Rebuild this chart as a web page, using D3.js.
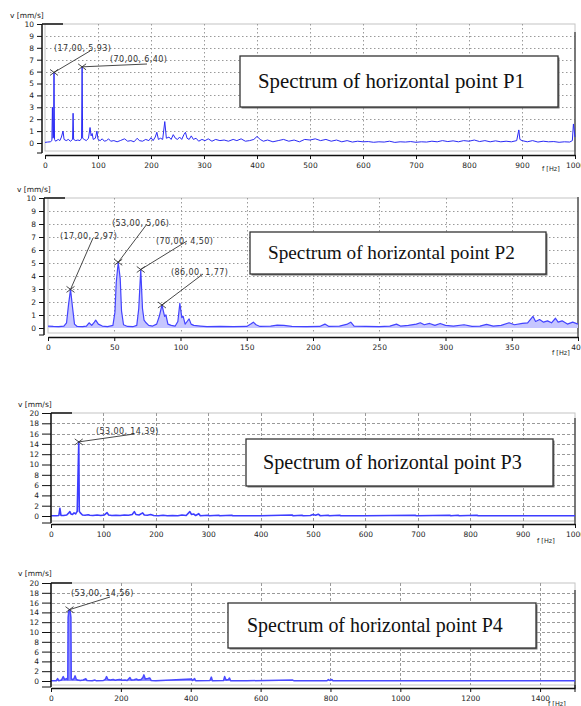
<!DOCTYPE html>
<html>
<head>
<meta charset="utf-8">
<script src="https://d3js.org/d3.v7.min.js"></script>
<style>
  body { margin: 0; background: #fff; }
  svg { display: block; }
</style>
</head>
<body>
<div id="chart"></div>
<script>

// spectrum P1 (0 - 1000 Hz)
var p1Freq = [0, 5, 10, 13, 14, 15, 16, 17, 18, 20, 25, 28, 31, 34, 36, 40, 44, 48, 52, 53, 54, 58, 62, 66, 69, 70, 71, 74, 78, 82, 85, 87, 89, 91, 95, 98, 100, 104, 108, 112, 116, 120, 124, 130, 136, 142, 150, 156, 162, 168, 174, 178, 184, 190, 196, 200, 204, 208, 211, 214, 218, 222, 226, 229, 234, 238, 242, 246, 250, 254, 258, 262, 265, 268, 272, 276, 280, 285, 290, 296, 302, 308, 315, 322, 330, 338, 346, 355, 362, 370, 378, 386, 394, 400, 406, 412, 420, 430, 440, 450, 460, 470, 480, 490, 500, 510, 520, 530, 540, 550, 560, 570, 580, 590, 600, 610, 620, 630, 640, 650, 660, 670, 680, 690, 700, 710, 720, 730, 740, 750, 760, 770, 780, 790, 800, 810, 820, 830, 840, 850, 860, 870, 880, 890, 894, 896, 900, 910, 920, 930, 940, 950, 960, 970, 980, 990, 995, 997, 1000];
var p1Vel = [0.05, 0.08, 0.1, 0.2, 3.0, 0.4, 0.5, 5.93, 0.3, 0.15, 0.3, 0.2, 0.5, 1.0, 0.3, 0.2, 0.3, 0.15, 0.3, 2.5, 0.3, 0.2, 0.25, 0.2, 0.4, 6.40, 0.4, 0.3, 0.2, 0.4, 1.3, 0.6, 0.8, 0.3, 0.4, 1.0, 0.3, 0.2, 0.35, 0.15, 0.2, 0.35, 0.15, 0.2, 0.1, 0.2, 0.35, 0.15, 0.2, 0.1, 0.4, 0.2, 0.15, 0.3, 0.2, 0.45, 0.2, 0.5, 0.9, 0.3, 0.4, 0.3, 1.8, 0.4, 0.5, 0.3, 0.7, 0.4, 0.3, 0.5, 0.3, 0.7, 0.9, 0.4, 0.3, 0.6, 0.3, 0.4, 0.15, 0.3, 0.2, 0.35, 0.15, 0.3, 0.2, 0.25, 0.15, 0.3, 0.2, 0.35, 0.15, 0.2, 0.3, 0.55, 0.3, 0.15, 0.25, 0.1, 0.2, 0.3, 0.15, 0.25, 0.1, 0.3, 0.25, 0.35, 0.2, 0.3, 0.15, 0.25, 0.1, 0.2, 0.08, 0.15, 0.1, 0.12, 0.06, 0.1, 0.08, 0.15, 0.05, 0.1, 0.08, 0.12, 0.06, 0.1, 0.08, 0.15, 0.1, 0.2, 0.12, 0.18, 0.1, 0.2, 0.15, 0.25, 0.12, 0.2, 0.1, 0.18, 0.1, 0.15, 0.1, 0.2, 1.1, 0.3, 0.2, 0.1, 0.2, 0.08, 0.15, 0.1, 0.12, 0.06, 0.1, 0.08, 0.2, 1.6, 0.5];
var p1Peaks = [[17, 5.93], [70, 6.40]];

// spectrum P2 (0 - 400 Hz)
var p2Freq = [0, 4, 8, 12, 14, 15.5, 17, 18.5, 20, 22, 26, 29, 31, 33, 35, 36, 38, 41, 45, 49, 50.5, 51.5, 53, 54.5, 55.5, 57, 60, 64, 67, 68.5, 70, 71.3, 72.5, 74, 76, 79, 82, 84, 86, 88, 89, 90.5, 93, 96, 98, 99.5, 101, 102, 103.5, 105, 106.5, 108, 110, 115, 120, 130, 140, 150, 153, 155, 157, 160, 168, 173, 178, 184, 195, 205, 209, 212, 220, 226, 228.5, 231, 240, 250, 258, 263, 266, 272, 278, 281, 284, 288, 292, 296, 300, 306, 314, 320, 326, 331, 336, 342, 348, 352, 358, 362, 366, 368, 371, 374, 377, 380, 383, 385, 388, 392, 396, 400];
var p2Vel = [0.15, 0.12, 0.1, 0.15, 0.4, 1.8, 2.97, 1.6, 0.3, 0.12, 0.1, 0.15, 0.4, 0.2, 0.45, 0.6, 0.3, 0.15, 0.1, 0.2, 1.2, 3.5, 5.06, 3.8, 1.3, 0.25, 0.12, 0.1, 0.2, 1.5, 4.50, 1.5, 0.6, 0.4, 0.2, 0.15, 0.3, 0.9, 1.77, 0.9, 1.0, 0.3, 0.2, 0.15, 0.5, 1.9, 0.8, 0.9, 0.3, 0.5, 0.7, 0.3, 0.2, 0.15, 0.1, 0.12, 0.1, 0.12, 0.3, 0.45, 0.25, 0.12, 0.15, 0.22, 0.2, 0.12, 0.1, 0.12, 0.3, 0.12, 0.15, 0.3, 0.45, 0.15, 0.12, 0.1, 0.15, 0.3, 0.15, 0.2, 0.3, 0.4, 0.25, 0.35, 0.2, 0.35, 0.2, 0.15, 0.25, 0.12, 0.15, 0.28, 0.15, 0.2, 0.4, 0.25, 0.35, 0.4, 0.9, 0.5, 0.65, 0.45, 0.55, 0.4, 0.75, 0.45, 0.55, 0.3, 0.45, 0.3];
var p2Peaks = [[17, 2.97], [53, 5.06], [70, 4.50], [86, 1.77]];

// spectrum P3 (0 - 1000 Hz)
var p3Freq = [0, 10, 15, 17, 19, 24, 30, 34, 36, 38, 41, 44, 47, 50, 52, 53, 54, 56, 60, 65, 71, 74, 80, 88, 95, 102, 107, 110, 116, 124, 132, 140, 148, 155, 159, 162, 168, 175, 178, 184, 190, 196, 205, 214, 222, 232, 242, 250, 258, 265, 268, 272, 276, 282, 285, 300, 302, 320, 322, 345, 347, 400, 460, 462, 479, 481, 495, 500, 505, 510, 514, 529, 531, 551, 553, 600, 695, 697, 761, 763, 777, 779, 813, 815, 1000];
var p3Vel = [0.05, 0.05, 0.1, 1.5, 0.1, 0.1, 0.2, 0.6, 0.85, 0.4, 0.3, 0.6, 0.4, 0.9, 9.8, 14.39, 0.9, 0.6, 0.2, 0.15, 0.25, 0.15, 0.1, 0.2, 0.1, 0.2, 0.65, 0.2, 0.1, 0.15, 0.1, 0.2, 0.15, 0.3, 0.85, 0.3, 0.2, 0.6, 0.2, 0.15, 0.3, 0.1, 0.05, 0.15, 0.05, 0.1, 0.05, 0.2, 0.1, 0.85, 0.3, 0.4, 0.1, 0.45, 0.05, 0.15, 0.05, 0.15, 0.05, 0.15, 0.05, 0.05, 0.2, 0.05, 0.15, 0.05, 0.1, 0.3, 0.15, 0.35, 0.05, 0.15, 0.05, 0.15, 0.05, 0.05, 0.15, 0.05, 0.15, 0.05, 0.15, 0.05, 0.15, 0.05, 0.05];
var p3Peaks = [[53, 14.39]];

// spectrum P4 (0 - 1500 Hz)
var p4Freq = [0, 15, 19, 22, 30, 35, 39, 44, 48, 49, 51, 53, 55, 57, 58, 62, 66, 69, 72, 76, 84, 92, 100, 103, 118, 126, 129, 150, 156, 159, 163, 170, 178, 184, 190, 197, 203, 212, 218, 226, 230, 238, 245, 250, 258, 263, 266, 270, 277, 283, 287, 300, 402, 405, 411, 414, 455, 459, 462, 494, 497, 501, 508, 511, 514, 560, 692, 695, 790, 794, 798, 804, 807, 1500];
var p4Vel = [0.05, 0.05, 0.5, 0.05, 0.2, 0.9, 0.3, 0.5, 0.3, 13.0, 14.3, 14.56, 14.2, 13.0, 0.4, 0.3, 0.5, 1.05, 0.4, 0.2, 0.1, 0.2, 0.45, 0.1, 0.05, 0.2, 0.05, 0.1, 0.4, 0.9, 0.3, 0.2, 0.3, 0.15, 0.25, 0.3, 0.15, 0.2, 0.1, 0.7, 0.2, 0.25, 0.4, 0.2, 0.3, 0.7, 1.25, 0.4, 0.5, 0.6, 0.1, 0.05, 0.4, 0.1, 0.5, 0.05, 0.1, 0.8, 0.05, 0.1, 0.9, 0.2, 0.3, 0.6, 0.05, 0.05, 0.2, 0.05, 0.05, 0.3, 0.1, 0.3, 0.05, 0.05];
var p4Peaks = [[53, 14.56]];

// tick values
var yTicks10 = [0, 1, 2, 3, 4, 5, 6, 7, 8, 9, 10];
var yTicks20 = [0, 2, 4, 6, 8, 10, 12, 14, 16, 18, 20];
var xTicks1000 = [0, 100, 200, 300, 400, 500, 600, 700, 800, 900, 1000];
var xTicks400 = [0, 50, 100, 150, 200, 250, 300, 350, 400];
var xTicks1500 = [0, 200, 400, 600, 800, 1000, 1200, 1400];

var titles = ["Spectrum of horizontal point P1", "Spectrum of horizontal point P2",
              "Spectrum of horizontal point P3", "Spectrum of horizontal point P4"];


var svg = d3.select("#chart").append("svg")
    .attr("width", 581)
    .attr("height", 706);

function peakLabel(p) {
    return "(" + p[0].toFixed(2).replace(".", ",") + ", " + p[1].toFixed(2).replace(".", ",") + ")";
}

function drawPanel(cfg) {
    var x = d3.scaleLinear().domain(cfg.xDomain).range(cfg.xRange);
    var y = d3.scaleLinear().domain(cfg.yDomain).range(cfg.yRange);
    var g = svg.append("g");
    var left = cfg.xRange[0], right = cfg.xRange[1];
    var top = y(cfg.yDomain[1]);

    // plot box (light gray)
    g.append("rect")
        .attr("x", left)
        .attr("y", top)
        .attr("width", right - left)
        .attr("height", cfg.boxBottom - top)
        .attr("fill", "none")
        .attr("stroke", "#c4c4c4")
        .attr("stroke-width", 1);

    // grid lines
    g.selectAll(".hgrid")
        .data(cfg.yGrid)
        .enter()
        .append("line")
        .attr("x1", left + 1).attr("x2", right)
        .attr("y1", function(d) { return Math.round(y(d)) + 0.5; })
        .attr("y2", function(d) { return Math.round(y(d)) + 0.5; })
        .attr("stroke", "#9a9a9a")
        .attr("stroke-dasharray", cfg.dash);
    g.selectAll(".vgrid")
        .data(cfg.xGrid)
        .enter()
        .append("line")
        .attr("x1", function(d) { return Math.round(x(d)) + 0.5; })
        .attr("x2", function(d) { return Math.round(x(d)) + 0.5; })
        .attr("y1", top).attr("y2", cfg.boxBottom)
        .attr("stroke", "#9a9a9a")
        .attr("stroke-dasharray", cfg.dash);

    // right border
    g.append("line")
        .attr("x1", right).attr("x2", right)
        .attr("y1", cfg.rightTop).attr("y2", cfg.axisY)
        .attr("stroke", "#555")
        .attr("stroke-width", 1.5);

    // spectrum
    var pts = d3.zip(cfg.freq, cfg.vel);
    if (cfg.fill) {
        var area = d3.area()
            .x(function(d) { return x(d[0]); })
            .y0(y(0))
            .y1(function(d) { return y(d[1]); });
        g.append("path")
            .attr("d", area(pts))
            .attr("fill", cfg.fill);
    }
    var line = d3.line()
        .x(function(d) { return x(d[0]); })
        .y(function(d) { return y(d[1]); });
    g.append("path")
        .attr("d", line(pts))
        .attr("fill", "none")
        .attr("stroke", cfg.color)
        .attr("stroke-width", cfg.lineWidth)
        .attr("stroke-linejoin", "round");

    // y axis
    var yAxis = d3.axisLeft(y)
        .tickValues(cfg.yTicks)
        .tickSize(cfg.tickLen)
        .tickPadding(3)
        .tickFormat(d3.format("d"));
    var ya = g.append("g")
        .attr("transform", "translate(" + cfg.axisX + ",0)")
        .call(yAxis);
    ya.select(".domain").remove();
    ya.selectAll("line").attr("stroke", "#111");
    ya.selectAll("text")
        .style("font-family", "DejaVu Sans")
        .style("font-size", "7.5px")
        .attr("fill", "#222");
    g.append("line")
        .attr("x1", cfg.axisX).attr("x2", cfg.axisX)
        .attr("y1", top).attr("y2", cfg.boxBottom + 2)
        .attr("stroke", "#111").attr("stroke-width", 1.5);
    g.append("line")
        .attr("x1", cfg.axisX - cfg.tickLen).attr("x2", cfg.axisX)
        .attr("y1", cfg.boxBottom + 2).attr("y2", cfg.boxBottom + 2)
        .attr("stroke", "#111");
    // top bracket
    g.append("line")
        .attr("x1", cfg.axisX).attr("x2", cfg.axisX + 21)
        .attr("y1", top).attr("y2", top)
        .attr("stroke", "#111").attr("stroke-width", 1.5);

    // x axis
    var xAxis = d3.axisBottom(x)
        .tickValues(cfg.xTicks)
        .tickSize(4)
        .tickSizeOuter(0)
        .tickPadding(4)
        .tickFormat(d3.format("d"));
    var xa = g.append("g")
        .attr("transform", "translate(0," + cfg.axisY + ")")
        .call(xAxis);
    xa.select(".domain").attr("stroke", "#111").attr("stroke-width", 1.5);
    xa.selectAll("line").attr("stroke", "#111");
    xa.selectAll("text")
        .style("font-family", "DejaVu Sans")
        .style("font-size", "7.5px")
        .attr("fill", "#222");
    if (cfg.endTick) {
        g.append("line")
            .attr("x1", right).attr("x2", right)
            .attr("y1", cfg.axisY - 3).attr("y2", cfg.axisY + 4)
            .attr("stroke", "#111");
    }

    // axis titles
    g.append("text")
        .attr("x", cfg.vLabel[0]).attr("y", cfg.vLabel[1])
        .style("font-family", "DejaVu Sans")
        .style("font-size", "7.5px")
        .attr("fill", "#222")
        .text("v [mm/s]");
    g.append("text")
        .attr("x", cfg.fLabel[0]).attr("y", cfg.fLabel[1])
        .style("font-family", "DejaVu Sans")
        .style("font-size", "6.5px")
        .attr("fill", "#222")
        .text("f [Hz]");

    // peak markers with leader lines
    cfg.peaks.forEach(function(p, i) {
        var px = x(p[0]), py = y(p[1]);
        var lab = cfg.labels[i];
        g.append("line")
            .attr("x1", px).attr("y1", py)
            .attr("x2", lab.end[0]).attr("y2", lab.end[1])
            .attr("stroke", "#333").attr("stroke-width", 0.9);
        g.append("path")
            .attr("d", "M" + (px - 4) + "," + (py - 3) + "L" + (px + 4) + "," + (py + 3) +
                       "M" + (px - 4) + "," + (py + 3) + "L" + (px + 4) + "," + (py - 3))
            .attr("stroke", "#333").attr("stroke-width", 0.9);
        g.append("text")
            .attr("x", lab.text[0]).attr("y", lab.text[1])
            .style("font-family", "DejaVu Sans")
            .style("font-size", "8px")
            .style("letter-spacing", "0.4px")
            .attr("fill", "#333")
            .text(peakLabel(p));
    });

    // title box
    var b = cfg.box;
    g.append("rect")
        .attr("x", b[0] + 1.5).attr("y", b[1] + 1.5)
        .attr("width", b[2] - b[0]).attr("height", b[3] - b[1])
        .attr("fill", "#777");
    g.append("rect")
        .attr("x", b[0]).attr("y", b[1])
        .attr("width", b[2] - b[0]).attr("height", b[3] - b[1])
        .attr("fill", "#fff")
        .attr("stroke", "#333")
        .attr("stroke-width", 1.3);
    var t = g.append("text")
        .attr("x", b[4])
        .attr("y", (b[1] + b[3]) / 2)
        .attr("dy", "0.33em")
        .style("font-family", "Liberation Serif")
        .style("font-size", "18px")
        .attr("fill", "#111")
        .text(cfg.title);
    // fit the title to the width seen in the picture
    var w = t.node().getComputedTextLength();
    t.style("font-size", (18 * b[5] / w) + "px");
}

drawPanel({
    freq: p1Freq, vel: p1Vel, peaks: p1Peaks, title: titles[0],
    xDomain: [0, 1000], xRange: [45, 575],
    yDomain: [0, 10], yRange: [143, 24],
    boxBottom: 151, axisX: 42, axisY: 155, rightTop: 32, tickLen: 5,
    yTicks: yTicks10, xTicks: xTicks1000,
    yGrid: [1, 2, 3, 4, 5, 6, 7, 8, 9], xGrid: [100, 200, 300, 400, 500, 600, 700, 800, 900],
    dash: "1.5,2.5", color: "#2a2af5", lineWidth: 1, fill: null, endTick: false,
    vLabel: [10, 18], fLabel: [542, 171],
    labels: [{end: [90, 51], text: [54, 51]}, {end: [147, 64], text: [110, 62]}],
    box: [240, 56, 558, 107, 258, 267]
});

drawPanel({
    freq: p2Freq, vel: p2Vel, peaks: p2Peaks, title: titles[1],
    xDomain: [0, 400], xRange: [48, 578],
    yDomain: [0, 10], yRange: [328, 198],
    boxBottom: 333, axisX: 44, axisY: 337, rightTop: 197, tickLen: 5,
    yTicks: yTicks10, xTicks: xTicks400,
    yGrid: [1, 2, 3, 4, 5, 6, 7, 8, 9], xGrid: [50, 100, 150, 200, 250, 300, 350],
    dash: "1.5,2.5", color: "#4343ff", lineWidth: 1.2, fill: "#c6c6ff", endTick: false,
    vLabel: [17, 192], fLabel: [552, 355],
    labels: [{end: [93, 238], text: [60, 239]}, {end: [147, 224], text: [112, 226]},
             {end: [187, 241], text: [156, 244]}, {end: [203, 274], text: [171, 275]}],
    box: [250, 232, 546, 274, 268, 247]
});

drawPanel({
    freq: p3Freq, vel: p3Vel, peaks: p3Peaks, title: titles[2],
    xDomain: [0, 1000], xRange: [51, 575],
    yDomain: [0, 20], yRange: [516, 413],
    boxBottom: 521, axisX: 51, axisY: 524, rightTop: 418, tickLen: 9,
    yTicks: yTicks20, xTicks: xTicks1000,
    yGrid: [2, 4, 6, 8, 10, 12, 14, 16, 18], xGrid: [100, 200, 300, 400, 500, 600, 700, 800, 900],
    dash: "3,2", color: "#3d3dff", lineWidth: 1.6, fill: null, endTick: false,
    vLabel: [18, 407], fLabel: [537, 543],
    labels: [{end: [134, 434], text: [96, 434]}],
    box: [246, 439, 553, 486, 263, 259]
});

drawPanel({
    freq: p4Freq, vel: p4Vel, peaks: p4Peaks, title: titles[3],
    xDomain: [0, 1500], xRange: [51, 575],
    yDomain: [0, 20], yRange: [681, 583],
    boxBottom: 685, axisX: 51, axisY: 688, rightTop: 590, tickLen: 9,
    yTicks: yTicks20, xTicks: xTicks1500,
    yGrid: [2, 4, 6, 8, 10, 12, 14, 16, 18], xGrid: [200, 400, 600, 800, 1000, 1200, 1400],
    dash: "3,2", color: "#4a4aff", lineWidth: 1.5, fill: "#8c8cff", endTick: true,
    vLabel: [18, 576], fLabel: [548, 706],
    labels: [{end: [110, 597], text: [71, 596]}],
    box: [228, 603, 536, 648, 247, 256]
});

</script>
</body>
</html>
